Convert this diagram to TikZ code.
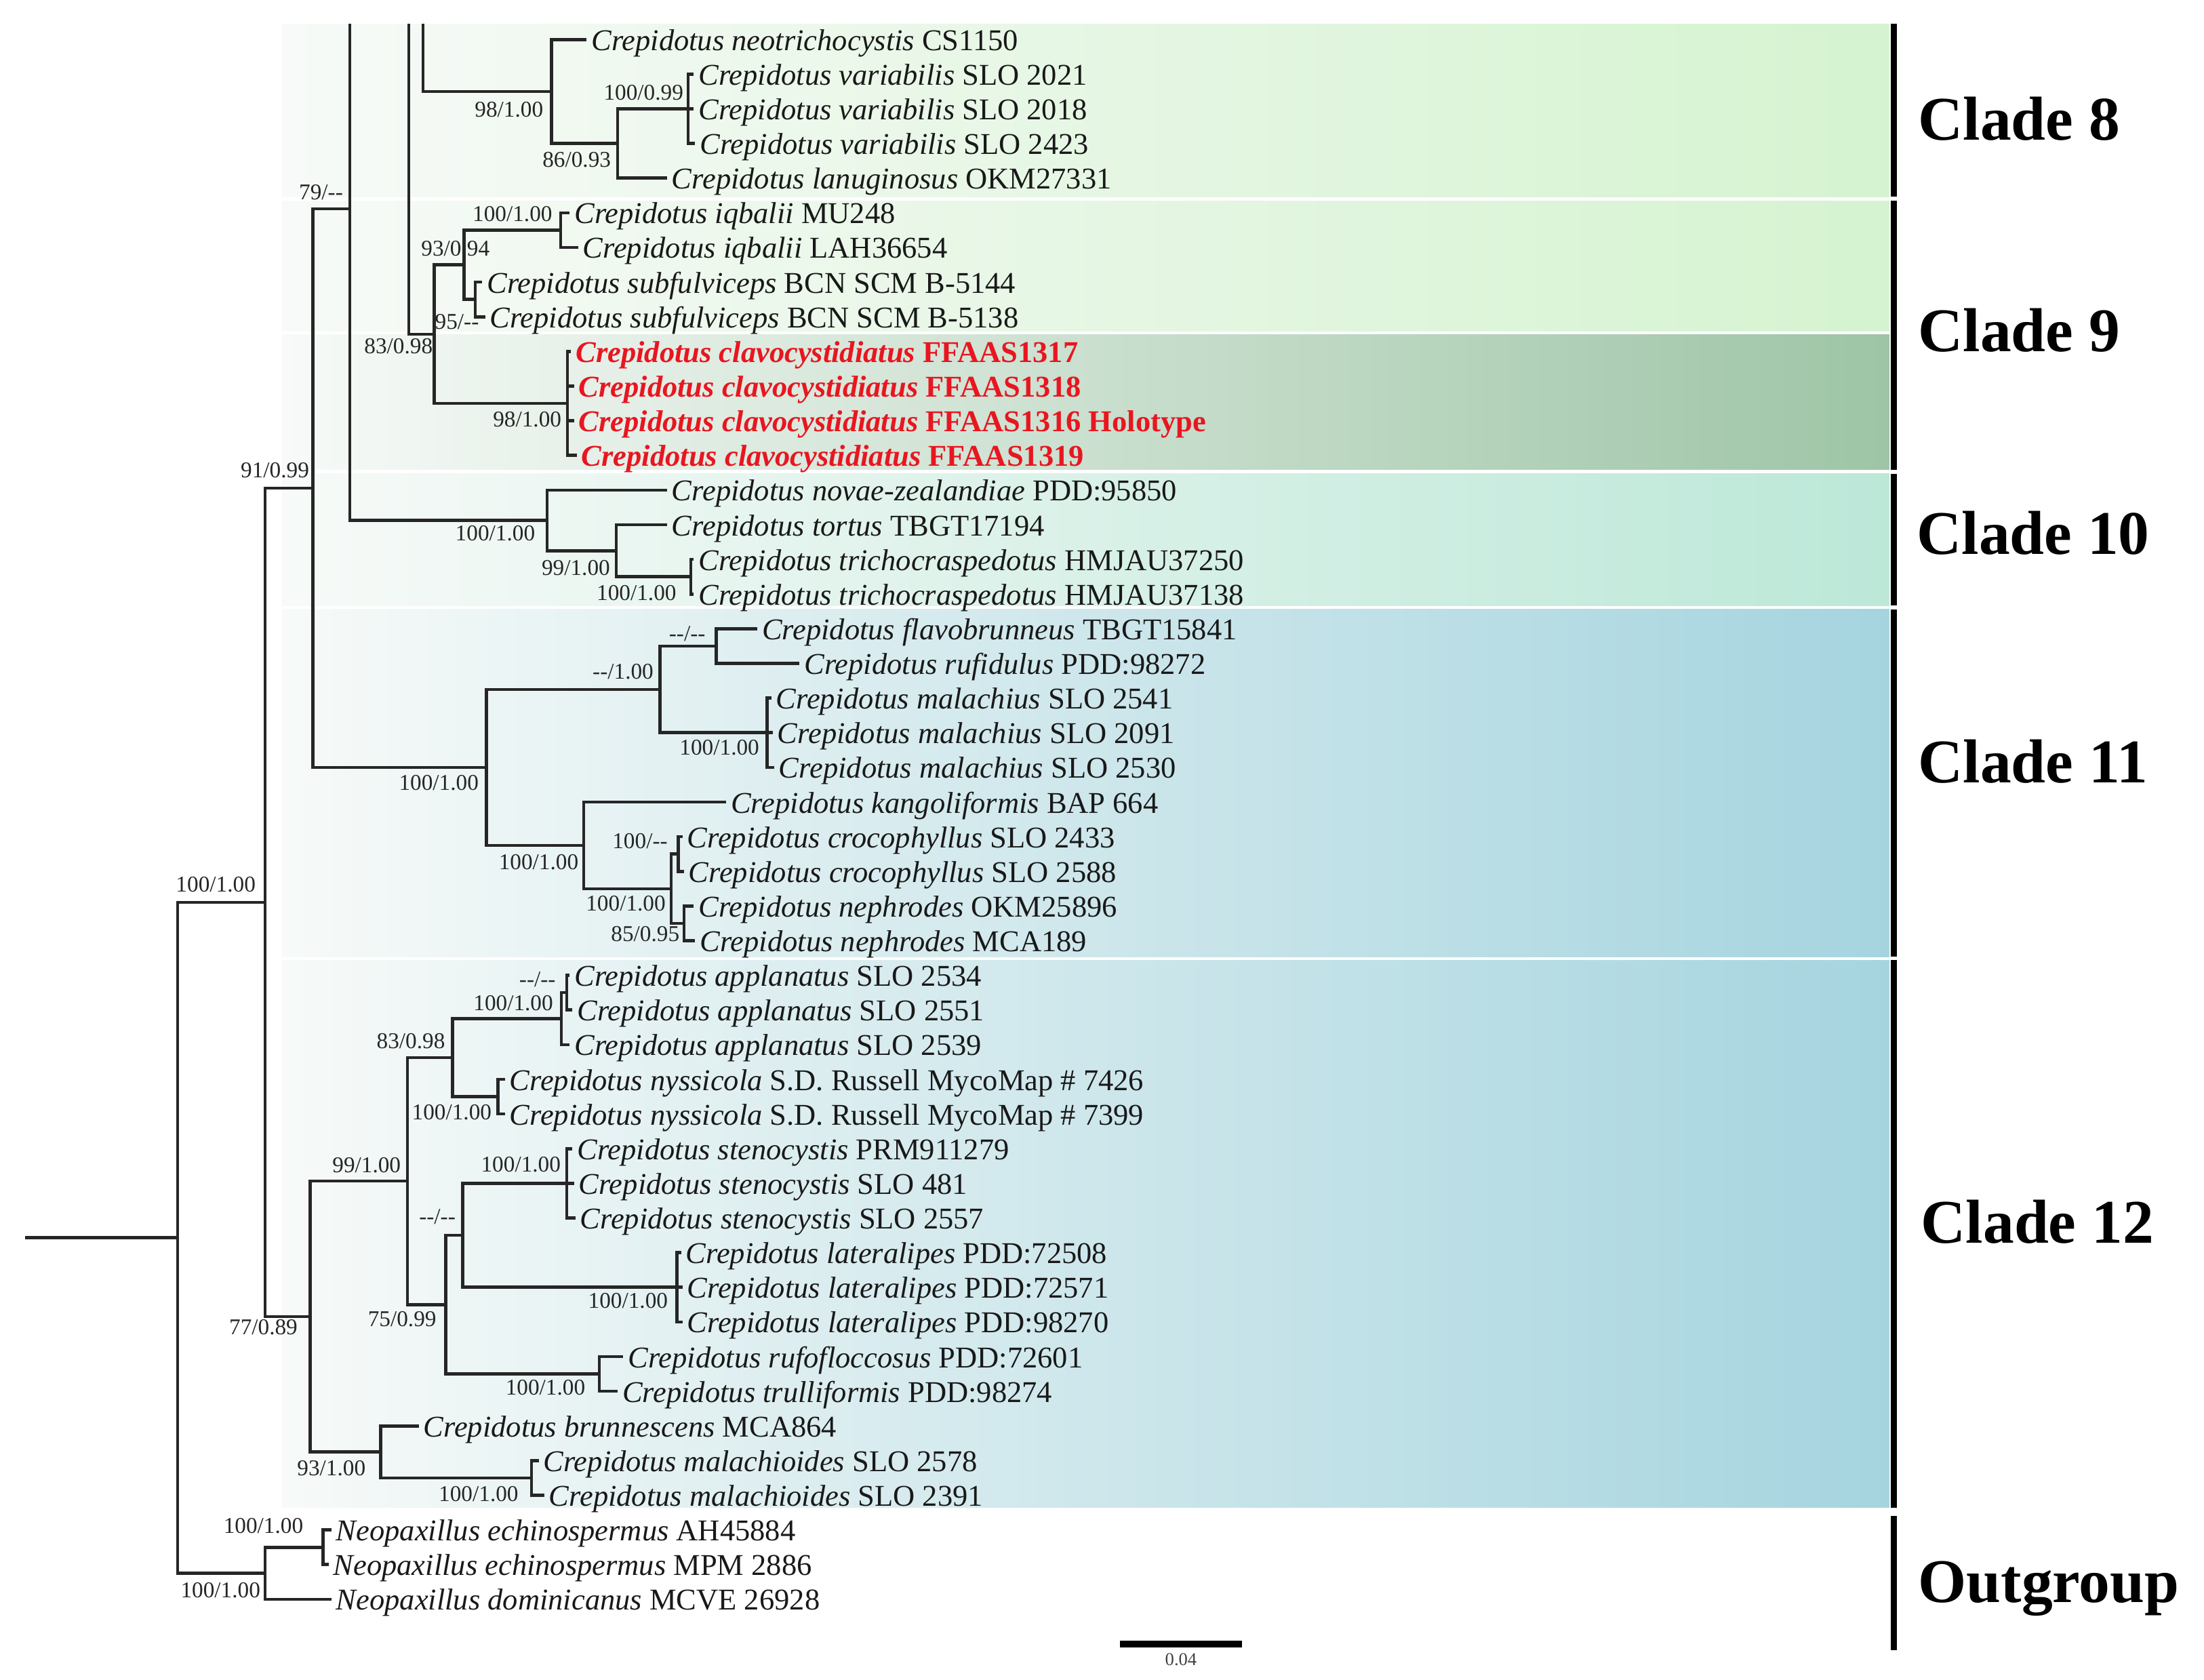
\documentclass[tikz,border=0pt]{standalone}
\usepackage{fontspec}
\setmainfont{Liberation Serif}
\usetikzlibrary{positioning}
\definecolor{bgL}{RGB}{247,250,248}
\definecolor{cEight}{RGB}{213,243,208}
\definecolor{cClv}{RGB}{158,197,166}
\definecolor{cTen}{RGB}{188,232,216}
\definecolor{cBlue}{RGB}{165,212,223}
\definecolor{cRed}{RGB}{232,22,32}
\tikzstyle{taxon}=[anchor=west, inner sep=1.5pt, text=black!90, font={\fontsize{10.7}{12}\selectfont}, text height=8.1pt, text depth=0.4pt]
\tikzstyle{redtaxon}=[taxon, text=cRed, font={\fontsize{10.7}{12}\selectfont\bfseries}]
\tikzstyle{supp}=[inner sep=0pt, text=black!85, font={\fontsize{8}{9}\selectfont}, text height=5.44pt, text depth=0pt]
\tikzstyle{branch}=[draw=black!85, line width=1.1pt]
\tikzstyle{cbar}=[draw=black, line width=2pt]
\tikzstyle{cladelab}=[anchor=west, inner sep=0pt, font={\fontsize{22}{26}\selectfont\bfseries}, text height=14.5pt, text depth=0pt]

\begin{document}
\begin{tikzpicture}[x=0.5pt, y=-0.5pt]
\useasboundingbox (0,0) rectangle (1563,1191.3);

\shade[left color=bgL, right color=cEight] (200,17) rectangle (1340,139.5);
\shade[left color=bgL, right color=cEight] (200,142.5) rectangle (1340,235);
\shade[left color=bgL, right color=cClv] (200,237.5) rectangle (1340,333);
\shade[left color=bgL, right color=cTen] (200,336) rectangle (1340,429.5);
\shade[left color=bgL, right color=cBlue] (200,432) rectangle (1340,678.5);
\shade[left color=bgL, right color=cBlue] (200,681) rectangle (1340,1069);

\draw[cbar] (1343,17) -- (1343,139.5);
\draw[cbar] (1343,142.5) -- (1343,333);
\draw[cbar] (1343,336) -- (1343,429.5);
\draw[cbar] (1343,432) -- (1343,678.5);
\draw[cbar] (1343,681) -- (1343,1069);
\draw[cbar] (1343,1075) -- (1343,1170);

\node[cladelab] (cl8) at (1360,85) {Clade 8};
\node[cladelab] (cl9) at (1360,234.6) {Clade 9};
\node[cladelab] (cl10) at (1359,378.7) {Clade 10};
\node[cladelab] (cl11) at (1360,540.4) {Clade 11};
\node[cladelab] (cl12) at (1362,866.8) {Clade 12};
\node[cladelab] (clout) at (1360,1122) {Outgroup};

\node[taxon] (t1) at (416,28) {\textit{Crepidotus neotrichocystis} CS1150};
\node[taxon] (t2) at (492,52.58) {\textit{Crepidotus variabilis} SLO 2021};
\node[taxon] (t3) at (492,77.16) {\textit{Crepidotus variabilis} SLO 2018};
\node[taxon] (t4) at (493,101.74) {\textit{Crepidotus variabilis} SLO 2423};
\node[taxon] (t5) at (473,126.32) {\textit{Crepidotus lanuginosus} OKM27331};
\node[taxon] (t6) at (404,150.9) {\textit{Crepidotus iqbalii} MU248};
\node[taxon] (t7) at (410,175.48) {\textit{Crepidotus iqbalii} LAH36654};
\node[taxon] (t8) at (342,200.06) {\textit{Crepidotus subfulviceps} BCN SCM B-5144};
\node[taxon] (t9) at (344,224.64) {\textit{Crepidotus subfulviceps} BCN SCM B-5138};
\node[redtaxon] (t10) at (405,249.22) {\textit{Crepidotus clavocystidiatus} FFAAS1317};
\node[redtaxon] (t11) at (407,273.8) {\textit{Crepidotus clavocystidiatus} FFAAS1318};
\node[redtaxon] (t12) at (407,298.38) {\textit{Crepidotus clavocystidiatus} FFAAS1316 Holotype};
\node[redtaxon] (t13) at (409,322.96) {\textit{Crepidotus clavocystidiatus} FFAAS1319};
\node[taxon] (t14) at (473,347.54) {\textit{Crepidotus novae-zealandiae} PDD:95850};
\node[taxon] (t15) at (473,372.12) {\textit{Crepidotus tortus} TBGT17194};
\node[taxon] (t16) at (492,396.7) {\textit{Crepidotus trichocraspedotus} HMJAU37250};
\node[taxon] (t17) at (492,421.28) {\textit{Crepidotus trichocraspedotus} HMJAU37138};
\node[taxon] (t18) at (537,445.86) {\textit{Crepidotus flavobrunneus} TBGT15841};
\node[taxon] (t19) at (567,470.44) {\textit{Crepidotus rufidulus} PDD:98272};
\node[taxon] (t20) at (547,495.02) {\textit{Crepidotus malachius} SLO 2541};
\node[taxon] (t21) at (548,519.6) {\textit{Crepidotus malachius} SLO 2091};
\node[taxon] (t22) at (549,544.18) {\textit{Crepidotus malachius} SLO 2530};
\node[taxon] (t23) at (515,568.76) {\textit{Crepidotus kangoliformis} BAP 664};
\node[taxon] (t24) at (484,593.34) {\textit{Crepidotus crocophyllus} SLO 2433};
\node[taxon] (t25) at (485,617.92) {\textit{Crepidotus crocophyllus} SLO 2588};
\node[taxon] (t26) at (492,642.5) {\textit{Crepidotus nephrodes} OKM25896};
\node[taxon] (t27) at (493,667.08) {\textit{Crepidotus nephrodes} MCA189};
\node[taxon] (t28) at (404,691.66) {\textit{Crepidotus applanatus} SLO 2534};
\node[taxon] (t29) at (406,716.24) {\textit{Crepidotus applanatus} SLO 2551};
\node[taxon] (t30) at (404,740.82) {\textit{Crepidotus applanatus} SLO 2539};
\node[taxon] (t31) at (358,765.4) {\textit{Crepidotus nyssicola} S.D. Russell MycoMap \# 7426};
\node[taxon] (t32) at (358,789.98) {\textit{Crepidotus nyssicola} S.D. Russell MycoMap \# 7399};
\node[taxon] (t33) at (406,814.56) {\textit{Crepidotus stenocystis} PRM911279};
\node[taxon] (t34) at (407,839.14) {\textit{Crepidotus stenocystis} SLO 481};
\node[taxon] (t35) at (408,863.72) {\textit{Crepidotus stenocystis} SLO 2557};
\node[taxon] (t36) at (483,888.3) {\textit{Crepidotus lateralipes} PDD:72508};
\node[taxon] (t37) at (484,912.88) {\textit{Crepidotus lateralipes} PDD:72571};
\node[taxon] (t38) at (484,937.46) {\textit{Crepidotus lateralipes} PDD:98270};
\node[taxon] (t39) at (442,962.04) {\textit{Crepidotus rufofloccosus} PDD:72601};
\node[taxon] (t40) at (438,986.62) {\textit{Crepidotus trulliformis} PDD:98274};
\node[taxon] (t41) at (297,1011.2) {\textit{Crepidotus brunnescens} MCA864};
\node[taxon] (t42) at (382,1035.78) {\textit{Crepidotus malachioides} SLO 2578};
\node[taxon] (t43) at (386,1060.36) {\textit{Crepidotus malachioides} SLO 2391};
\node[taxon] (t44) at (235,1084.94) {\textit{Neopaxillus echinospermus} AH45884};
\node[taxon] (t45) at (233,1109.52) {\textit{Neopaxillus echinospermus} MPM 2886};
\node[taxon] (t46) at (235,1134.1) {\textit{Neopaxillus dominicanus} MCVE 26928};

\coordinate (cut1) at (248,17);
\coordinate (cut2) at (290,17);
\coordinate (cut3) at (300,17);
\coordinate (nA) at (488,77.16);
\coordinate (nB) at (438,101.74);
\coordinate (nC) at (391,64.87);
\coordinate (nIqb) at (397.5,163.19);
\coordinate (nSub) at (337,212.35);
\coordinate (n93) at (329,187.77);
\coordinate (nClv) at (402.5,286.09);
\coordinate (n83) at (308,236.93);
\coordinate (nTri) at (490,408.99);
\coordinate (n99) at (437,390.56);
\coordinate (nC10) at (388,369.05);
\coordinate (n79) at (248,148);
\coordinate (nFlv) at (508,458.15);
\coordinate (nMal) at (544,519.6);
\coordinate (nA11) at (468,488.88);
\coordinate (nCro) at (481,605.63);
\coordinate (nNep) at (485,654.79);
\coordinate (nCN) at (476,630.21);
\coordinate (nKan) at (414,599.49);
\coordinate (nC11) at (345,544.18);
\coordinate (n91) at (222,346.09);
\coordinate (nApp1) at (402,703.95);
\coordinate (nApp) at (398,722.39);
\coordinate (nNys) at (353,777.69);
\coordinate (n83b) at (321,750.04);
\coordinate (nSte) at (402,839.14);
\coordinate (nLat) at (480,912.88);
\coordinate (nDD) at (328,876.01);
\coordinate (nRuf) at (425,974.33);
\coordinate (n75) at (316,925.17);
\coordinate (n99b) at (289,837.61);
\coordinate (nMld) at (377,1048.07);
\coordinate (n93b) at (270,1029.64);
\coordinate (n77) at (220,933.62);
\coordinate (nIn) at (188,639.86);
\coordinate (nEch) at (229,1097.23);
\coordinate (nOut) at (188,1115.67);
\coordinate (root) at (126,877.76);
\coordinate (rt0) at (18,877.76);

\draw[branch] (cut3) |- (nC);
\draw[branch] (nC) |- (t1.west) (nC) |- (nB);
\draw[branch] (nB) |- (nA) (nB) |- (t5.west);
\draw[branch] (nA) |- (t2.west) (nA) |- (t3.west) (nA) |- (t4.west);
\draw[branch] (cut2) |- (n83);
\draw[branch] (n83) |- (n93) (n83) |- (nClv);
\draw[branch] (n93) |- (nIqb) (n93) |- (nSub);
\draw[branch] (nIqb) |- (t6.west) (nIqb) |- (t7.west);
\draw[branch] (nSub) |- (t8.west) (nSub) |- (t9.west);
\draw[branch] (nClv) |- (t10.west) (nClv) |- (t11.west) (nClv) |- (t12.west) (nClv) |- (t13.west);
\draw[branch] (cut1) |- (nC10);
\draw[branch] (nC10) |- (t14.west) (nC10) |- (n99);
\draw[branch] (n99) |- (t15.west) (n99) |- (nTri);
\draw[branch] (nTri) |- (t16.west) (nTri) |- (t17.west);
\draw[branch] (n91) |- (n79) (n91) |- (nC11);
\draw[branch] (nC11) |- (nA11) (nC11) |- (nKan);
\draw[branch] (nA11) |- (nFlv) (nA11) |- (nMal);
\draw[branch] (nFlv) |- (t18.west) (nFlv) |- (t19.west);
\draw[branch] (nMal) |- (t20.west) (nMal) |- (t21.west) (nMal) |- (t22.west);
\draw[branch] (nKan) |- (t23.west) (nKan) |- (nCN);
\draw[branch] (nCN) |- (nCro) (nCN) |- (nNep);
\draw[branch] (nCro) |- (t24.west) (nCro) |- (t25.west);
\draw[branch] (nNep) |- (t26.west) (nNep) |- (t27.west);
\draw[branch] (n77) |- (n99b) (n77) |- (n93b);
\draw[branch] (n99b) |- (n83b) (n99b) |- (n75);
\draw[branch] (n83b) |- (nApp) (n83b) |- (nNys);
\draw[branch] (nApp) |- (nApp1) (nApp) |- (t30.west);
\draw[branch] (nApp1) |- (t28.west) (nApp1) |- (t29.west);
\draw[branch] (nNys) |- (t31.west) (nNys) |- (t32.west);
\draw[branch] (n75) |- (nDD) (n75) |- (nRuf);
\draw[branch] (nDD) |- (nSte) (nDD) |- (nLat);
\draw[branch] (nSte) |- (t33.west) (nSte) |- (t34.west) (nSte) |- (t35.west);
\draw[branch] (nLat) |- (t36.west) (nLat) |- (t37.west) (nLat) |- (t38.west);
\draw[branch] (nRuf) |- (t39.west) (nRuf) |- (t40.west);
\draw[branch] (n93b) |- (t41.west) (n93b) |- (nMld);
\draw[branch] (nMld) |- (t42.west) (nMld) |- (t43.west);
\draw[branch] (nIn) |- (n91) (nIn) |- (n77);
\draw[branch] (root) |- (nIn) (root) |- (nOut);
\draw[branch] (nOut) |- (nEch) (nOut) |- (t46.west);
\draw[branch] (nEch) |- (t44.west) (nEch) |- (t45.west);
\draw[branch] (rt0) -- (root);

\node[supp, below left=3.5pt and 2.7pt of nC] (sC) {98/1.00};
\node[supp, above left=2.8pt and 1.5pt of nA] (sA) {100/0.99};
\node[supp, below left=2.7pt and 2.2pt of nB] (sB) {86/0.93};
\node[supp, above left=2.9pt and 2.75pt of nIqb] (sIqb) {100/1.00};
\node[supp, above left=2.9pt and -9.3pt of n93] (s93) {93/0.94};
\node[supp, below left=4.8pt and -1.5pt of nSub] (sSub) {95/-{}-};
\node[supp, below left=1.3pt and 0.4pt of n83] (s83) {83/0.98};
\node[supp, below left=2.7pt and 2pt of nClv] (sClv) {98/1.00};
\node[supp, above left=3pt and 2.2pt of n79] (s79) {79/-{}-};
\node[supp, above left=3.4pt and 1.2pt of n91] (s91) {91/0.99};
\node[supp, below left=1.6pt and 4.1pt of nC10] (sC10) {100/1.00};
\node[supp, below left=3pt and 2pt of n99] (s99) {99/1.00};
\node[supp, below left=2.8pt and 5pt of nTri] (sTri) {100/1.00};
\node[supp, above left=1.5pt and 3.7pt of nFlv] (sFlv) {-{}-/-{}-};
\node[supp, above left=3.6pt and 2.1pt of nA11] (sA11) {-{}-/1.00};
\node[supp, below left=2.2pt and 2.6pt of nMal] (sMal) {100/1.00};
\node[supp, below left=2.4pt and 2.6pt of nC11] (sC11) {100/1.00};
\node[supp, below left=3pt and 1.7pt of nKan] (sKan) {100/1.00};
\node[supp, above left=1.8pt and 3.6pt of nCro] (sCro) {100/-{}-};
\node[supp, below left=2.3pt and 1.8pt of nCN] (sCN) {100/1.00};
\node[supp, below left=0.7pt and 1.4pt of nNep] (sNep) {85/0.95};
\node[supp, above left=2pt and 3.8pt of nApp1] (sApp1) {-{}-/-{}-};
\node[supp, above left=2.6pt and 2.7pt of nApp] (sApp) {100/1.00};
\node[supp, above left=3pt and 2.5pt of n83b] (s83b) {83/0.98};
\node[supp, below left=2.4pt and 2pt of nNys] (sNys) {100/1.00};
\node[supp, above left=3.9pt and 2pt of nSte] (sSte) {100/1.00};
\node[supp, above left=3.8pt and 2.3pt of nDD] (sDD) {-{}-/-{}-};
\node[supp, below left=1.8pt and 3pt of nLat] (sLat) {100/1.00};
\node[supp, below left=2.1pt and 3.1pt of n75] (s75) {75/0.99};
\node[supp, below left=1.7pt and 4.8pt of nRuf] (sRuf) {100/1.00};
\node[supp, above left=2.9pt and 2.2pt of n99b] (s99b) {99/1.00};
\node[supp, below left=0.7pt and 4.3pt of n77] (s77) {77/0.89};
\node[supp, below left=2.8pt and 5.2pt of n93b] (s93b) {93/1.00};
\node[supp, below left=2.7pt and 4.5pt of nMld] (sMld) {100/1.00};
\node[supp, above left=3.5pt and 3.2pt of nIn] (sIn) {100/1.00};
\node[supp, above left=4.8pt and 6.8pt of nEch] (sEch) {100/1.00};
\node[supp, below left=2.9pt and 1.5pt of nOut] (sOut) {100/1.00};

\coordinate (sb1) at (794,1166);
\coordinate (sb2) at (881,1166);
\draw[line width=2.5pt] (sb1) -- (sb2);
\node[inner sep=0pt, font={\fontsize{6.4}{7}\selectfont}, text=black!75] (sbl) at (837.5,1177) {0.04};
\end{tikzpicture}
\end{document}
